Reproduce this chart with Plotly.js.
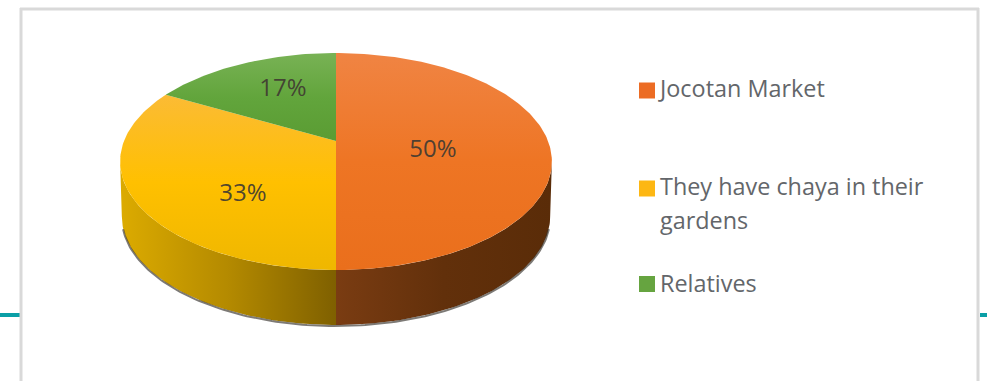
<!DOCTYPE html>
<html>
<head>
<meta charset="utf-8">
<script src="https://cdn.plot.ly/plotly-3.0.1.min.js"></script>
<style>html,body{margin:0;padding:0;background:#fff}#chart{width:987px;height:381px}</style>
</head>
<body>
<div id="chart"></div>
<script>
// Where the households get their chaya (share of respondents, %)
const categories = ['Jocotan Market', 'They have chaya in their gardens', 'Relatives'];
const shares = [50, 33, 17];
const sliceLabels = ['50%', '33%', '17%'];
const legendLines = ['Jocotan Market', 'They have chaya in their', 'gardens', 'Relatives'];

// Top-face shades, listed from the front of the disc to the back
const topColors = [
  ['#ea6f1c', '#ee7524', '#f08443'],
  ['#efb700', '#ffc000', '#fbbb35'],
  ['#5a9c33', '#62a53c', '#78b255']
];
const wallColors = [
  ['#7a3c12', '#62300b', '#5a2c08'],
  ['#dcab00', '#b48a00', '#7f6000'],
  ['#4c7a30', '#4c7a30', '#4c7a30']
];
const swatchColors = ['#ec6c24', '#fdb713', '#66a440'];

// Tilted disc: a projective view of a unit circle, so the hub sits above the ellipse middle.
const hub = {x: 336, y: 141};
const spreadX = 212, spreadY = 104.6, tilt = 0.189, depth = 55;

function rim(deg, drop, narrow) {
  const t = deg * Math.PI / 180;
  const d = 1 + tilt * Math.cos(t);
  return [hub.x + (narrow || 1) * spreadX * Math.sin(t) / d,
          hub.y - spreadY * Math.cos(t) / d + (drop || 0)];
}
function arc(from, to, drop, narrow) {
  const pts = [], n = Math.max(2, Math.ceil(Math.abs(to - from)));
  for (let i = 0; i <= n; i++) pts.push(rim(from + (to - from) * i / n, drop, narrow));
  return pts;
}

const widest = Math.acos(-tilt) * 180 / Math.PI;   // rim angle of the right-hand extreme
const total = shares.reduce((a, b) => a + b, 0);
const spans = [];
shares.reduce((start, v) => {
  const end = start + v / total * 360;
  spans.push([start, end]);
  return end;
}, 0);

const traces = [];
const stops = c => [[0, c[0]], [0.5, c[1]], [1, c[2]]];

// Side walls, drawn only where the rim faces the viewer
spans.forEach((s, i) => {
  const a = Math.max(s[0], widest), b = Math.min(s[1], 360 - widest);
  if (a >= b) return;
  const upper = arc(a, b, 0), lower = arc(b, a, depth, 0.992);
  const pts = upper.concat(lower);
  traces.push({
    type: 'scatter', mode: 'lines', x: pts.map(p => p[0]), y: pts.map(p => p[1]),
    fill: 'toself', line: {width: 0}, hoverinfo: 'skip', showlegend: false,
    fillgradient: {type: 'horizontal', colorscale: stops(wallColors[i])}
  });
});

// Soft dark edge under the disc
const edge = arc(widest + 6, 360 - widest - 6, depth + 1, 0.992);
traces.push({
  type: 'scatter', mode: 'lines', x: edge.map(p => p[0]), y: edge.map(p => p[1]),
  line: {color: 'rgba(55,50,45,0.65)', width: 2}, hoverinfo: 'skip', showlegend: false
});

// Top faces of the slices
spans.forEach((s, i) => {
  const pts = [[hub.x, hub.y]].concat(arc(s[0], s[1], 0), [[hub.x, hub.y]]);
  traces.push({
    type: 'scatter', mode: 'lines', name: categories[i],
    x: pts.map(p => p[0]), y: pts.map(p => p[1]),
    fill: 'toself', line: {width: 0}, showlegend: false,
    text: categories[i] + ': ' + shares[i] + '%', hoverinfo: 'text',
    fillgradient: {type: 'vertical', colorscale: stops(topColors[i])}
  });
});

// Percentage labels on the slices
const labelAt = [[433, 151], [243, 195], [283, 90]];
traces.push({
  type: 'scatter', mode: 'text', x: labelAt.map(p => p[0]), y: labelAt.map(p => p[1]),
  text: sliceLabels, textposition: 'middle center', hoverinfo: 'skip', showlegend: false,
  textfont: {family: 'Open Sans, sans-serif', size: 24, color: 'rgba(64,58,50,0.92)'}
});

// Legend: swatches and text
const swatchAt = [[647, 90.5], [647, 188.5], [647, 284]];
traces.push({
  type: 'scatter', mode: 'markers', x: swatchAt.map(p => p[0]), y: swatchAt.map(p => p[1]),
  marker: {symbol: 'square', size: 16, color: swatchColors}, hoverinfo: 'skip', showlegend: false
});
const lineAt = [[660, 91], [660, 189], [660, 223], [660, 286]];
traces.push({
  type: 'scatter', mode: 'text', x: lineAt.map(p => p[0]), y: lineAt.map(p => p[1]),
  text: legendLines, textposition: 'middle right', hoverinfo: 'skip', showlegend: false,
  textfont: {family: 'Open Sans, sans-serif', size: 23.4, color: '#63666a'}
});

const frame = '#d9d9d9', teal = '#0a9fa6';
const layout = {
  width: 987, height: 381, margin: {l: 0, r: 0, t: 0, b: 0},
  paper_bgcolor: '#ffffff', plot_bgcolor: '#ffffff', showlegend: false,
  xaxis: {range: [0, 987], visible: false, fixedrange: true},
  yaxis: {range: [381, 0], visible: false, fixedrange: true},
  shapes: [
    {type: 'line', layer: 'below', x0: 0, x1: 20, y0: 315, y1: 315, line: {color: teal, width: 4}},
    {type: 'line', layer: 'below', x0: 980, x1: 987, y0: 315, y1: 315, line: {color: teal, width: 4}},
    {type: 'line', layer: 'below', x0: 21, x1: 21, y0: 8, y1: 381, line: {color: frame, width: 3}},
    {type: 'line', layer: 'below', x0: 978, x1: 978, y0: 8, y1: 381, line: {color: frame, width: 3}},
    {type: 'line', layer: 'below', x0: 20, x1: 979, y0: 9, y1: 9, line: {color: frame, width: 3}}
  ]
};
Plotly.newPlot('chart', traces, layout, {displayModeBar: false, responsive: false});
</script>
</body>
</html>
